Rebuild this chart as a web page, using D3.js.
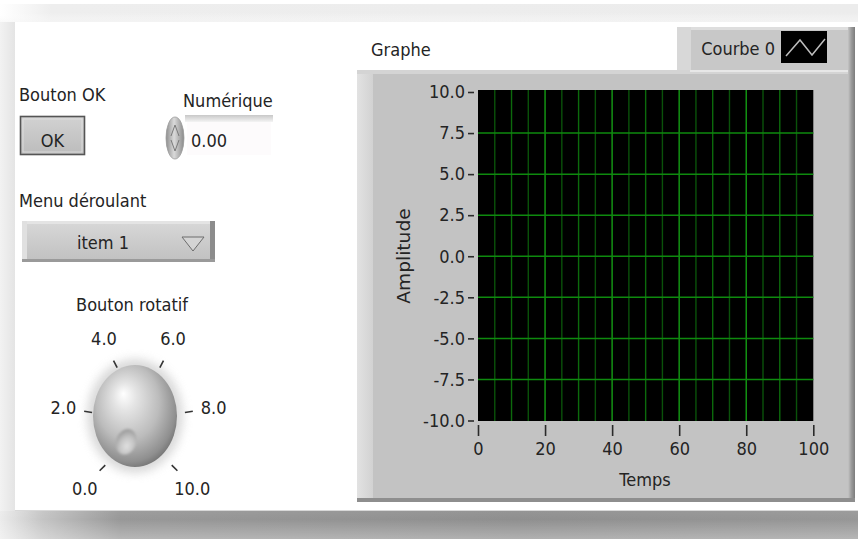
<!DOCTYPE html>
<html>
<head>
<meta charset="utf-8">
<script src="https://cdn.jsdelivr.net/npm/d3@7"></script>
<style>
  html, body { margin: 0; padding: 0; background: #ffffff; }
  svg { display: block; }
  text { font-family: "DejaVu Sans Condensed", "DejaVu Sans", sans-serif; font-stretch: condensed; fill: #242424; }
</style>
</head>
<body>
<svg id="chart" width="858" height="539"></svg>
<script>
// ---------- data ----------
const xTicks = [0, 20, 40, 60, 80, 100];
const xGridMinor = [5, 10, 15, 25, 30, 35, 45, 50, 55, 65, 70, 75, 85, 90, 95];
const yTicks = [10, 7.5, 5, 2.5, 0, -2.5, -5, -7.5, -10];
const yTickLabels = ["10.0", "7.5", "5.0", "2.5", "0.0", "-2.5", "-5.0", "-7.5", "-10.0"];
const xDomain = [0, 100];
const yDomain = [-10, 10];
const knobTicks = [0, 2, 4, 6, 8, 10];
const knobLabels = ["0.0", "2.0", "4.0", "6.0", "8.0", "10.0"];
const knobDomain = [0, 10];
const knobValue = 0;
const seriesName = "Courbe 0";
const titleText = "Graphe";
const xTitle = "Temps";
const yTitle = "Amplitude";
const okLabel = "Bouton OK";
const okText = "OK";
const numLabel = "Numérique";
const numValue = "0.00";
const menuLabel = "Menu déroulant";
const menuValue = "item 1";
const knobTitle = "Bouton rotatif";

const FS = 18;

// ---------- setup ----------
const svg = d3.select("#chart");
const defs = svg.append("defs");

function linGrad(id, x1, y1, x2, y2, stops) {
  const g = defs.append("linearGradient").attr("id", id)
    .attr("x1", x1).attr("y1", y1).attr("x2", x2).attr("y2", y2);
  stops.forEach(s => g.append("stop").attr("offset", s[0]).attr("stop-color", s[1]).attr("stop-opacity", s[2] == null ? 1 : s[2]));
}
linGrad("topBand", "0", "0", "1", "0", [["0", "#ffffff"], ["0.06", "#eeeeee"], ["1", "#ececec"]]);
linGrad("topBandV", "0", "0", "0", "1", [["0", "#ffffff", 0], ["0.5", "#ffffff", 0], ["1", "#f6f6f6", 0.6]]);
linGrad("leftStrip", "0", "0", "1", "0", [["0", "#f2f2f2"], ["1", "#e4e4e4"]]);
linGrad("shadowH", "0", "0", "1", "0", [["0", "#ececec"], ["0.05", "#c4c4c4"], ["0.14", "#989898"], ["0.6", "#8f8f8f"], ["1", "#979797"]]);
linGrad("shadowV", "0", "0", "0", "1", [["0", "#ffffff", 0.05], ["0.3", "#ffffff", 0], ["1", "#ffffff", 0.3]]);
linGrad("btnGrad", "0", "0", "0", "1", [["0", "#d2d2d2"], ["1", "#bcbcbc"]]);
linGrad("menuGrad", "0", "0", "0", "1", [["0", "#d8d8d8"], ["1", "#c0c0c0"]]);
linGrad("numTop", "0", "0", "0", "1", [["0", "#c8c8c8"], ["1", "#f4f4f4"]]);
linGrad("panelLeft", "0", "0", "1", "0", [["0", "#e2e2e2"], ["1", "#d2d2d2"]]);
linGrad("panelRight", "0", "0", "1", "0", [["0", "#c4c4c4"], ["0.5", "#9a9a9a"], ["1", "#7c7c7c"]]);
linGrad("spinGrad", "0", "0", "1", "0", [["0", "#8e8e8e"], ["0.45", "#dadada"], ["1", "#8a8a8a"]]);

const knobG = defs.append("radialGradient").attr("id", "knobGrad")
  .attr("cx", "0.45").attr("cy", "0.42").attr("r", "0.62").attr("fx", "0.36").attr("fy", "0.28");
[["0", "#ffffff"], ["0.22", "#e4e4e4"], ["0.6", "#bcbcbc"], ["0.88", "#8f8f8f"], ["1", "#6e6e6e"]]
  .forEach(s => knobG.append("stop").attr("offset", s[0]).attr("stop-color", s[1]));
const dimG = defs.append("radialGradient").attr("id", "dimGrad")
  .attr("cx", "0.6").attr("cy", "0.65").attr("r", "0.7");
[["0", "#e0e0e0"], ["0.5", "#c4c4c4"], ["1", "#969696"]]
  .forEach(s => dimG.append("stop").attr("offset", s[0]).attr("stop-color", s[1]));
defs.append("filter").attr("id", "blur6").attr("x", "-50%").attr("y", "-50%").attr("width", "200%").attr("height", "200%")
  .append("feGaussianBlur").attr("stdDeviation", 5);
defs.append("filter").attr("id", "blur1").append("feGaussianBlur").attr("stdDeviation", 0.8);

// ---------- page frame ----------
svg.append("rect").attr("x", 0).attr("y", 0).attr("width", 858).attr("height", 539).attr("fill", "#ffffff");
svg.append("rect").attr("x", 0).attr("y", 4).attr("width", 858).attr("height", 18).attr("fill", "url(#topBand)");
svg.append("rect").attr("x", 0).attr("y", 4).attr("width", 858).attr("height", 18).attr("fill", "url(#topBandV)");
svg.append("rect").attr("x", 0).attr("y", 22).attr("width", 15).attr("height", 490).attr("fill", "url(#leftStrip)");
svg.append("rect").attr("x", 0).attr("y", 511).attr("width", 858).attr("height", 28).attr("fill", "url(#shadowH)");
svg.append("rect").attr("x", 0).attr("y", 511).attr("width", 858).attr("height", 28).attr("fill", "url(#shadowV)");
svg.append("rect").attr("x", 15).attr("y", 22).attr("width", 843).attr("height", 488).attr("fill", "#ffffff");
svg.append("line").attr("x1", 15).attr("x2", 858).attr("y1", 510.5).attr("y2", 510.5).attr("stroke", "#d8d8d8");

// ---------- left controls ----------
const L = svg.append("g");
L.append("text").attr("x", 19).attr("y", 101).attr("font-size", FS).text(okLabel);
L.append("rect").attr("x", 20.5).attr("y", 116.5).attr("width", 64).attr("height", 38)
  .attr("fill", "url(#btnGrad)").attr("stroke", "#555").attr("stroke-width", 1.6);
L.append("rect").attr("x", 23).attr("y", 119).attr("width", 59).attr("height", 33)
  .attr("fill", "none").attr("stroke", "#e6e6e6").attr("stroke-width", 1).attr("opacity", 0.7);
L.append("text").attr("x", 52.5).attr("y", 147).attr("text-anchor", "middle").attr("font-size", FS).text(okText);

L.append("text").attr("x", 183).attr("y", 107).attr("font-size", FS).text(numLabel);
L.append("rect").attr("x", 185).attr("y", 115).attr("width", 88).attr("height", 7).attr("fill", "url(#numTop)");
L.append("rect").attr("x", 187).attr("y", 122).attr("width", 84).attr("height", 33).attr("fill", "#fdfbfc");
L.append("ellipse").attr("cx", 175).attr("cy", 138).attr("rx", 9).attr("ry", 21)
  .attr("fill", "url(#spinGrad)").attr("stroke", "#9a9a9a").attr("stroke-width", 0.8);
L.append("path").attr("d", d3.line()([[171, 136], [175, 125], [179, 136]]))
  .attr("fill", "none").attr("stroke", "#7a7a7a").attr("stroke-width", 1);
L.append("path").attr("d", d3.line()([[171, 140], [175, 151], [179, 140]]))
  .attr("fill", "none").attr("stroke", "#7a7a7a").attr("stroke-width", 1);
L.append("text").attr("x", 191).attr("y", 147).attr("font-size", FS).text(numValue);

L.append("text").attr("x", 19).attr("y", 207).attr("font-size", FS).text(menuLabel);
L.append("rect").attr("x", 22).attr("y", 221).attr("width", 193).attr("height", 41).attr("fill", "url(#menuGrad)");
L.append("rect").attr("x", 22).attr("y", 221).attr("width", 193).attr("height", 3).attr("fill", "#e4e4e4");
L.append("rect").attr("x", 22).attr("y", 221).attr("width", 5).attr("height", 41).attr("fill", "#e0e0e0");
L.append("rect").attr("x", 210).attr("y", 221).attr("width", 5).attr("height", 41).attr("fill", "#8c8c8c");
L.append("rect").attr("x", 22).attr("y", 259).attr("width", 193).attr("height", 3).attr("fill", "#9a9a9a");
L.append("text").attr("x", 103).attr("y", 249).attr("text-anchor", "middle").attr("font-size", FS).text(menuValue);
L.append("path").attr("d", d3.line()([[182, 237], [204, 237], [193, 251]]) + "Z")
  .attr("fill", "#d4d4d4").attr("stroke", "#6c6c6c").attr("stroke-width", 1);

// ---------- knob ----------
L.append("text").attr("x", 132).attr("y", 311).attr("text-anchor", "middle").attr("font-size", FS).text(knobTitle);
const knobAngle = d3.scaleLinear().domain(knobDomain).range([-135, 135]);
const dial = { cx: 138.5, cy: 422, rIn: [47, 61], rOut: [55, 69], rLab: [76, 94] };
const pt = (a, r) => [dial.cx + Math.sin(a * Math.PI / 180) * r[0], dial.cy - Math.cos(a * Math.PI / 180) * r[1]];
L.append("ellipse").attr("cx", 135).attr("cy", 416).attr("rx", 48).attr("ry", 57)
  .attr("fill", "#d0d0d0").attr("opacity", 0.8).attr("filter", "url(#blur6)");
L.selectAll(".ktick").data(knobTicks).enter().append("line").attr("class", "ktick")
  .attr("x1", d => pt(knobAngle(d), dial.rIn)[0]).attr("y1", d => pt(knobAngle(d), dial.rIn)[1])
  .attr("x2", d => pt(knobAngle(d), dial.rOut)[0]).attr("y2", d => pt(knobAngle(d), dial.rOut)[1])
  .attr("stroke", "#333").attr("stroke-width", 1.6);
L.selectAll(".klab").data(knobTicks).enter().append("text").attr("class", "klab")
  .attr("x", d => pt(knobAngle(d), dial.rLab)[0]).attr("y", d => pt(knobAngle(d), dial.rLab)[1])
  .attr("text-anchor", "middle").attr("dominant-baseline", "central").attr("font-size", FS)
  .text((d, i) => knobLabels[i]);
L.append("ellipse").attr("cx", 135).attr("cy", 416).attr("rx", 42).attr("ry", 51)
  .attr("fill", "url(#knobGrad)");
const dp = pt(knobAngle(knobValue), [16, 28]);
L.append("ellipse").attr("cx", dp[0] - 1).attr("cy", dp[1]).attr("rx", 10).attr("ry", 13)
  .attr("transform", `rotate(20 ${dp[0] - 1} ${dp[1]})`)
  .attr("fill", "url(#dimGrad)").attr("filter", "url(#blur1)");

// ---------- graph panel ----------
const G = svg.append("g");
G.append("text").attr("x", 371).attr("y", 56).attr("font-size", FS).text(titleText);
// legend box
G.append("rect").attr("x", 677).attr("y", 27).attr("width", 178).attr("height", 43).attr("fill", "#c8c8c8");
G.append("rect").attr("x", 677).attr("y", 27).attr("width", 178).attr("height", 3).attr("fill", "#dedede");
G.append("rect").attr("x", 677).attr("y", 27).attr("width", 14).attr("height", 43).attr("fill", "#d8d8d8");
G.append("rect").attr("x", 848).attr("y", 27).attr("width", 7).attr("height", 43).attr("fill", "url(#panelRight)");
G.append("text").attr("x", 775).attr("y", 55).attr("text-anchor", "end").attr("font-size", FS).text(seriesName);
G.append("rect").attr("x", 781).attr("y", 31).attr("width", 46).attr("height", 32).attr("fill", "#000");
G.append("path").attr("d", d3.line()([[786, 56], [800, 40], [812, 55], [825, 39]]))
  .attr("fill", "none").attr("stroke", "#bdbdbd").attr("stroke-width", 1.5);

// panel
G.append("rect").attr("x", 357).attr("y", 70).attr("width", 498).attr("height", 432).attr("fill", "#c3c3c3");
G.append("rect").attr("x", 357).attr("y", 70).attr("width", 16).attr("height", 432).attr("fill", "url(#panelLeft)");
G.append("rect").attr("x", 357).attr("y", 70).attr("width", 498).attr("height", 4).attr("fill", "#d4d4d4");
G.append("rect").attr("x", 848).attr("y", 70).attr("width", 7).attr("height", 432).attr("fill", "url(#panelRight)");
G.append("rect").attr("x", 357).attr("y", 498).attr("width", 498).attr("height", 4).attr("fill", "#8e8e8e");
G.append("line").attr("x1", 690).attr("x2", 848).attr("y1", 71).attr("y2", 71).attr("stroke", "#eeeeee").attr("stroke-width", 1.5);

// scales
const x = d3.scaleLinear().domain(xDomain).range([478, 813.3]);
const y = d3.scaleLinear().domain(yDomain).range([420.5, 92]);

G.append("rect").attr("x", x(0)).attr("y", 90).attr("width", x(100) - x(0)).attr("height", 331).attr("fill", "#000");
// grid
G.selectAll(".gmin").data(xGridMinor).enter().append("line").attr("class", "gmin")
  .attr("x1", d => x(d)).attr("x2", d => x(d)).attr("y1", 90).attr("y2", 421)
  .attr("stroke", d => d % 10 === 0 ? "#0c6a0c" : "#0a520a").attr("stroke-width", 1.4);
G.selectAll(".gmaj").data(xTicks.slice(1, -1)).enter().append("line").attr("class", "gmaj")
  .attr("x1", d => x(d)).attr("x2", d => x(d)).attr("y1", 90).attr("y2", 421)
  .attr("stroke", "#139213").attr("stroke-width", 1.5);
G.selectAll(".gy").data(yTicks.slice(1, -1)).enter().append("line").attr("class", "gy")
  .attr("x1", x(0)).attr("x2", x(100)).attr("y1", d => y(d)).attr("y2", d => y(d))
  .attr("stroke", "#0e8a0e").attr("stroke-width", 1.5);

// axes
const yAxis = d3.axisLeft(y).tickValues(yTicks).tickSize(6).tickPadding(3)
  .tickFormat(d => yTickLabels[yTicks.indexOf(d)]);
const ya = G.append("g").attr("transform", "translate(474,0)").call(yAxis);
const xAxis = d3.axisBottom(x).tickValues(xTicks).tickSize(11).tickPadding(6).tickFormat(d3.format("d"));
const xa = G.append("g").attr("transform", "translate(0,425)").call(xAxis);
[ya, xa].forEach(a => {
  a.select(".domain").remove();
  a.selectAll(".tick line").attr("stroke", "#2a2a2a").attr("stroke-width", 1.6);
  a.selectAll(".tick text").attr("font-size", FS).attr("fill", "#242424")
    .style("font-family", '"DejaVu Sans Condensed", "DejaVu Sans", sans-serif');
});
G.append("text").attr("x", 645).attr("y", 486).attr("text-anchor", "middle").attr("font-size", FS).text(xTitle);
G.append("text").attr("transform", "translate(410,256) rotate(-90) scale(1.15,1)")
  .attr("text-anchor", "middle").attr("font-size", FS).text(yTitle);
</script>
</body>
</html>
